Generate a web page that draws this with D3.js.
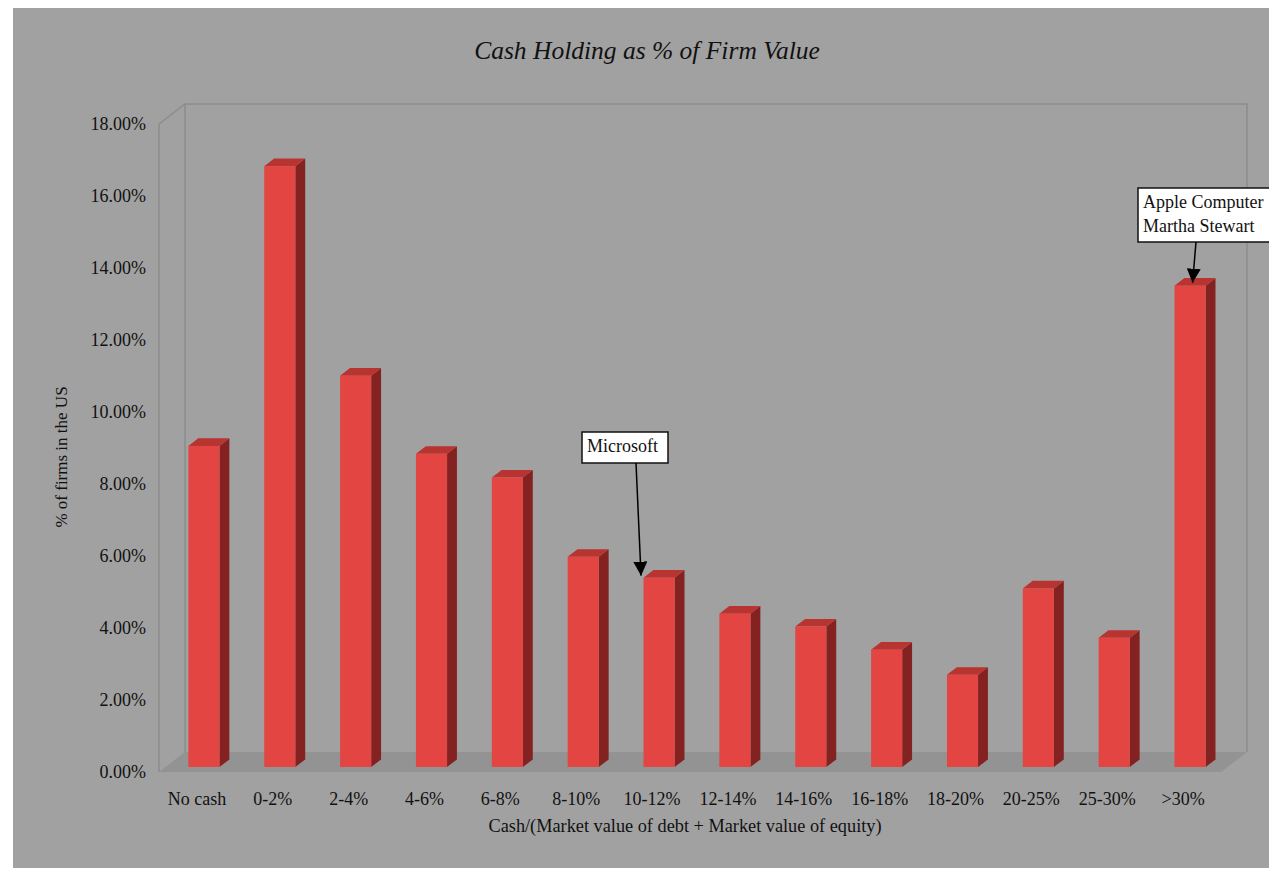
<!DOCTYPE html>
<html>
<head>
<meta charset="utf-8">
<script src="https://cdn.jsdelivr.net/npm/d3@7"></script>
<style>
  html, body { margin: 0; padding: 0; background: #ffffff; }
  svg { display: block; }
  text { font-family: "Liberation Serif", "Times New Roman", serif; fill: #111; }
</style>
</head>
<body>
<svg id="chart" width="1269" height="869"></svg>
<script>
const categories = ["No cash", "0-2%", "2-4%", "4-6%", "6-8%", "8-10%", "10-12%",
  "12-14%", "14-16%", "16-18%", "18-20%", "20-25%", "25-30%", ">30%"];
const values = [8.92, 16.69, 10.87, 8.70, 8.04, 5.84, 5.26, 4.26, 3.90, 3.26, 2.56, 4.96, 3.59, 13.37];
const yTicks = [0, 2, 4, 6, 8, 10, 12, 14, 16, 18];
const chartTitle = "Cash Holding as % of Firm Value";
const xTitle = "Cash/(Market value of debt + Market value of equity)";
const yTitle = "% of firms in the US";
const annotations = [
  { category: "10-12%", lines: ["Microsoft"] },
  { category: ">30%", lines: ["Apple Computer", "Martha Stewart"] }
];

const svg = d3.select("#chart");
// background panel
svg.append("rect").attr("x", 13).attr("y", 8).attr("width", 1269 - 13).attr("height", 868 - 8)
  .attr("fill", "#a1a1a1");

// front plane geometry
const pLeft = 159, pRight = 1221, pBottom = 772, pTop = 124;
const DX = 26, DY = -20; // full depth offset
const x = d3.scaleBand().domain(categories).range([pLeft, pRight]).paddingInner(0.59).paddingOuter(0.295);
const y = d3.scaleLinear().domain([0, 18]).range([pBottom, pTop]);

const wallColor = "#8c8c8c";
const g = svg.append("g");
// floor
g.append("path")
  .attr("d", `M${pLeft},${pBottom} L${pLeft + DX},${pBottom + DY} L${pRight + DX},${pBottom + DY} L${pRight},${pBottom} Z`)
  .attr("fill", "#939393");
// walls
g.append("path")
  .attr("d", `M${pLeft},${pBottom} L${pLeft},${pTop} L${pLeft + DX},${pTop + DY} L${pRight + DX},${pTop + DY} L${pRight + DX},${pBottom + DY}`)
  .attr("fill", "none").attr("stroke", wallColor).attr("stroke-width", 1.5);
g.append("line")
  .attr("x1", pLeft + DX).attr("y1", pTop + DY).attr("x2", pLeft + DX).attr("y2", pBottom + DY)
  .attr("stroke", wallColor).attr("stroke-width", 1.5);

// bars
const d1 = 0.25, d2 = 0.63;
const fdx = DX * d1, fdy = DY * d1, bdx = DX * d2, bdy = DY * d2;
const sdx = bdx - fdx, sdy = bdy - fdy;
const bars = g.selectAll(".bar").data(categories.map((c, i) => ({ c, v: values[i] })))
  .enter().append("g").attr("class", "bar");
bars.each(function(d) {
  const sel = d3.select(this);
  const x0 = x(d.c) + fdx + 0.5, x1 = x0 + x.bandwidth();
  const yT = y(d.v) + fdy, yB = y(0) + fdy;
  sel.append("path")
    .attr("d", `M${x1},${yT} L${x1 + sdx},${yT + sdy} L${x1 + sdx},${yB + sdy} L${x1},${yB} Z`)
    .attr("fill", "#832220");
  sel.append("path")
    .attr("d", `M${x0},${yT} L${x0 + sdx},${yT + sdy} L${x1 + sdx},${yT + sdy} L${x1},${yT} Z`)
    .attr("fill", "#b73431");
  sel.append("rect").attr("x", x0).attr("y", yT).attr("width", x.bandwidth()).attr("height", yB - yT)
    .attr("fill", "#e34542");
});

// y axis labels
const yAxis = d3.axisLeft(y).tickValues(yTicks).tickFormat(d => d3.format(".2f")(d) + "%").tickSize(0).tickPadding(0);
const ya = svg.append("g").attr("transform", `translate(146,0)`).call(yAxis);
ya.select(".domain").remove();
ya.selectAll("text").attr("font-size", 18).attr("font-family", "Liberation Serif").attr("fill", "#111").attr("dy", "0.32em");

// x axis labels
const xAxis = d3.axisBottom(x).tickSize(0).tickPadding(0);
const xa = svg.append("g").attr("transform", `translate(0,805)`).call(xAxis);
xa.select(".domain").remove();
xa.selectAll("text").attr("font-size", 18).attr("font-family", "Liberation Serif").attr("fill", "#111").attr("dy", "0");

// titles
svg.append("text").attr("x", 647).attr("y", 59).attr("text-anchor", "middle")
  .attr("font-size", 25.5).attr("font-style", "italic").text(chartTitle);
svg.append("text").attr("x", 685).attr("y", 832).attr("text-anchor", "middle")
  .attr("font-size", 18.3).text(xTitle);
svg.append("text").attr("transform", `translate(67,457) rotate(-90)`).attr("text-anchor", "middle")
  .attr("font-size", 17).text(yTitle);

// annotations
svg.append("defs").append("marker").attr("id", "arr").attr("viewBox", "0 0 10 10")
  .attr("refX", 10).attr("refY", 5).attr("markerWidth", 14).attr("markerHeight", 14)
  .attr("markerUnits", "userSpaceOnUse").attr("orient", "auto")
  .append("path").attr("d", "M0,0 L10,5 L0,10 Z").attr("fill", "#000");

function addAnnotation(a, box, tip) {
  const ag = svg.append("g");
  ag.append("rect").attr("x", box.x).attr("y", box.y).attr("width", box.w).attr("height", box.h)
    .attr("fill", "#fff").attr("stroke", "#111").attr("stroke-width", 1.5);
  a.lines.forEach((l, i) => {
    ag.append("text").attr("x", box.x + 5).attr("y", box.y + 20 + i * 24).attr("font-size", 18).text(l);
  });
  ag.append("line").attr("x1", box.ax).attr("y1", box.y + box.h).attr("x2", tip.x).attr("y2", tip.y)
    .attr("stroke", "#000").attr("stroke-width", 1.5).attr("marker-end", "url(#arr)");
}
{
  const a = annotations[0];
  const i = categories.indexOf(a.category);
  const tip = { x: x(a.category) + fdx - 2, y: y(values[i]) + fdy - 2 };
  addAnnotation(a, { x: 582, y: 432, w: 86, h: 31, ax: 636 }, tip);
}
{
  const a = annotations[1];
  const i = categories.indexOf(a.category);
  const tip = { x: x(a.category) + fdx + x.bandwidth() / 2 + 3, y: y(values[i]) + fdy - 3 };
  addAnnotation(a, { x: 1138, y: 188, w: 140, h: 54, ax: 1196 }, tip);
}
</script>
</body>
</html>
